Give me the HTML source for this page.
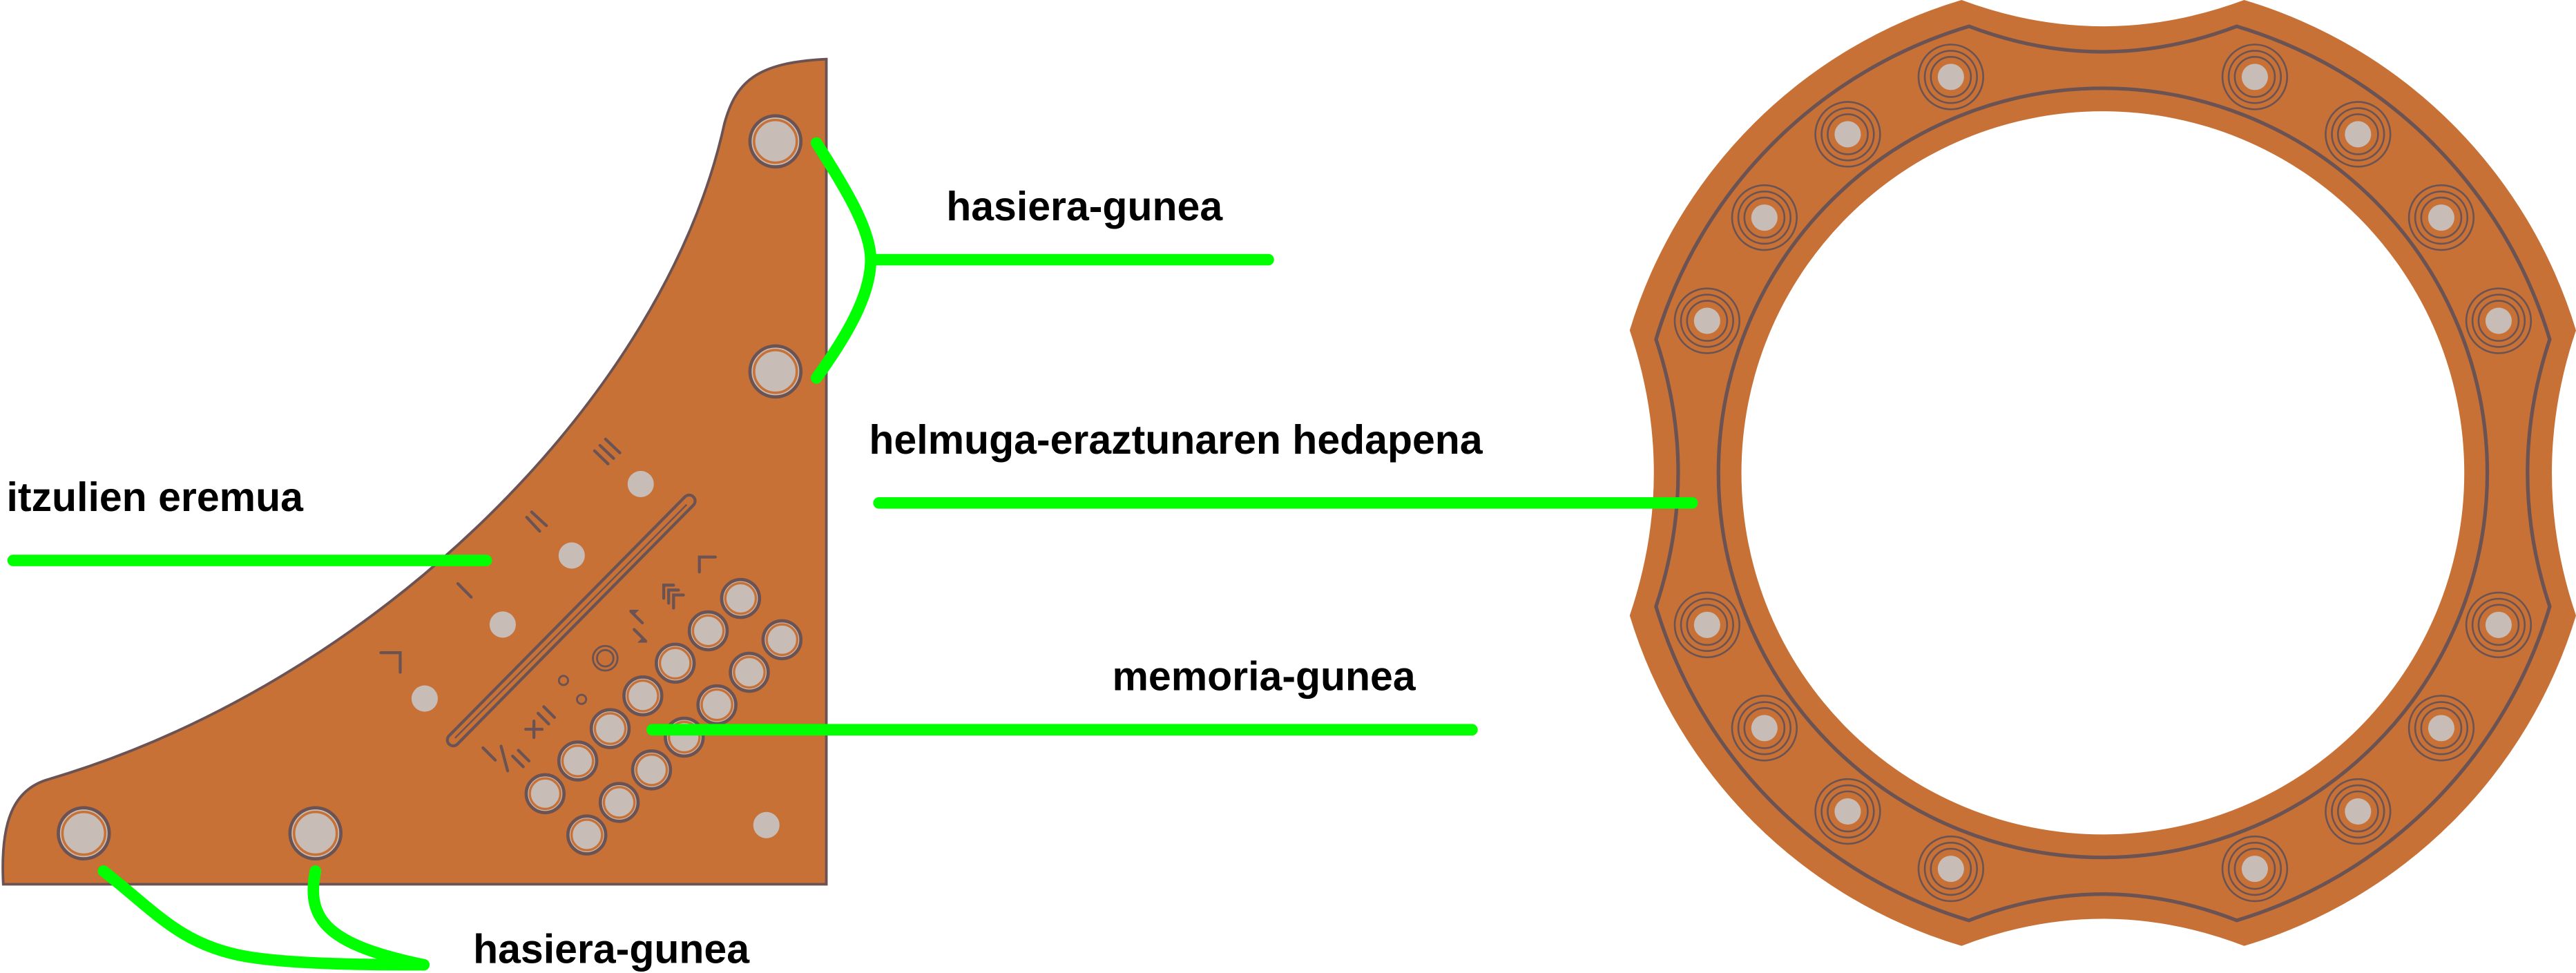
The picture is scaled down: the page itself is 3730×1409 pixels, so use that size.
<!DOCTYPE html>
<html><head><meta charset="utf-8"><style>
html,body{margin:0;padding:0;background:#fff;}
svg{display:block;}
text{font-family:"Liberation Sans",Arial,sans-serif;font-weight:bold;font-size:24.8px;fill:#000;}
</style></head><body>
<svg width="3730" height="1409" viewBox="0 0 1568 592" preserveAspectRatio="none" xmlns="http://www.w3.org/2000/svg">
<defs>
<g id="hole">
<circle r="19.7" fill="none" stroke="#6b5353" stroke-width="1.1"/>
<circle r="15.9" fill="none" stroke="#6b5353" stroke-width="1.1"/>
<circle r="12.2" fill="none" stroke="#6b5353" stroke-width="1.1"/>
<circle r="8" fill="#c8bcb6"/>
</g>
</defs>
<!-- Left panel -->
<path d="M503,36 L503,538 L2,538 C0,500 8,480 30,474 C230,415 405,240 441,75 C448,50 460,38 503,36 Z" fill="#c87137" stroke="#6b5353" stroke-width="1.6"/>
<g fill="#c8bcb6" stroke="#6b5353" stroke-width="2">
<circle cx="472" cy="86" r="15.5"/><circle cx="472" cy="226" r="15.5"/>
<circle cx="51" cy="507" r="15.5"/><circle cx="192" cy="507" r="15.5"/>
</g>
<g fill="none" stroke="#c87137" stroke-width="1.5">
<circle cx="472" cy="86" r="13"/><circle cx="472" cy="226" r="13"/>
<circle cx="51" cy="507" r="13"/><circle cx="192" cy="507" r="13"/>
</g>
<g fill="#c8bcb6">
<circle cx="390" cy="294.5" r="8"/><circle cx="348" cy="338" r="8"/><circle cx="306" cy="380" r="8"/><circle cx="258.5" cy="425" r="8"/><circle cx="466.5" cy="502" r="8"/>
</g>
<!-- slot -->
<line x1="419.5" y1="304.8" x2="275.9" y2="450.2" stroke="#6b5353" stroke-width="9" stroke-linecap="round"/>
<line x1="419.5" y1="304.8" x2="275.9" y2="450.2" stroke="#c87137" stroke-width="5.4" stroke-linecap="round"/>
<line x1="418" y1="307" x2="277" y2="449" stroke="#6b5353" stroke-width="1"/>
<!-- marks -->
<g stroke="#6b5353" stroke-width="1.8" stroke-linecap="round" fill="none">
<line x1="361.9" y1="274.3" x2="370.1" y2="282.2"/><line x1="365.2" y1="271" x2="373.5" y2="278.9"/><line x1="368.6" y1="267.2" x2="377.3" y2="275.5"/>
<line x1="320.6" y1="314.7" x2="328.5" y2="323.2"/><line x1="323.6" y1="311.5" x2="332.6" y2="319.8"/>
<line x1="278.7" y1="355.1" x2="286.8" y2="363.3"/>
<polyline points="231.8,397.1 243.6,397.1 243.6,409"/>
<polyline points="425.7,348 425.7,338.9 435.4,338.9"/>
<line x1="320" y1="443.7" x2="330" y2="443.7"/><line x1="325" y1="438.7" x2="325" y2="448.7"/>
<line x1="327.5" y1="434" x2="334" y2="440.5"/><line x1="331" y1="430" x2="337.5" y2="436.5"/>
<line x1="294" y1="455" x2="301.5" y2="462.5"/><line x1="305" y1="454" x2="309" y2="469"/>
<line x1="312" y1="460" x2="318.5" y2="466.5"/><line x1="315.5" y1="456.5" x2="322" y2="463"/>
<polyline points="404,364 404,356 410,356"/><polyline points="407,367 407,359 413,359"/><polyline points="410,370 410,362 416,362"/>
<line x1="384" y1="372" x2="391" y2="379"/><line x1="386" y1="383" x2="393" y2="390"/>
</g>
<g fill="#6b5353">
<polygon points="383,371 389,371 386,374"/>
<polygon points="394,391 388,391 391,388"/>
</g>
<g fill="none" stroke="#6b5353" stroke-width="1.2">
<circle cx="368.4" cy="400.5" r="7.5"/><circle cx="368.4" cy="400.5" r="5"/>
<circle cx="343" cy="414" r="2.8"/><circle cx="354" cy="425.5" r="2.8"/>
</g>
<!-- key grid -->
<g fill="#c8bcb6" stroke="#6b5353" stroke-width="2">
<circle cx="450.8" cy="364.1" r="11.5"/><circle cx="431.1" cy="383.8" r="11.5"/><circle cx="411" cy="403.5" r="11.5"/><circle cx="391.3" cy="423.4" r="11.5"/><circle cx="371.4" cy="443.3" r="11.5"/><circle cx="351.7" cy="463" r="11.5"/><circle cx="331.8" cy="482.9" r="11.5"/>
<circle cx="476" cy="389.2" r="11.5"/><circle cx="456.1" cy="409" r="11.5"/><circle cx="436.4" cy="428.8" r="11.5"/><circle cx="416.5" cy="448.5" r="11.5"/><circle cx="396.6" cy="468.4" r="11.5"/><circle cx="376.9" cy="488.2" r="11.5"/><circle cx="357.2" cy="508" r="11.5"/>
</g>
<g fill="none" stroke="#c87137" stroke-width="1.4">
<circle cx="450.8" cy="364.1" r="9.3"/><circle cx="431.1" cy="383.8" r="9.3"/><circle cx="411" cy="403.5" r="9.3"/><circle cx="391.3" cy="423.4" r="9.3"/><circle cx="371.4" cy="443.3" r="9.3"/><circle cx="351.7" cy="463" r="9.3"/><circle cx="331.8" cy="482.9" r="9.3"/>
<circle cx="476" cy="389.2" r="9.3"/><circle cx="456.1" cy="409" r="9.3"/><circle cx="436.4" cy="428.8" r="9.3"/><circle cx="416.5" cy="448.5" r="9.3"/><circle cx="396.6" cy="468.4" r="9.3"/><circle cx="376.9" cy="488.2" r="9.3"/><circle cx="357.2" cy="508" r="9.3"/>
</g>

<!-- Ring -->
<path fill-rule="evenodd" fill="#c87137" d="M1194,0 Q1280,32 1366,0 A300.5,300.5 0 0 1 1568,201 Q1538.6,287.7 1568,374.5 A300.5,300.5 0 0 1 1366,575.5 Q1280,542.5 1194,575.5 A300.5,300.5 0 0 1 992,374.5 Q1021.4,287.7 992,201 A300.5,300.5 0 0 1 1194,0 Z M1500,287.7 A220,220 0 1 0 1060,287.7 A220,220 0 1 0 1500,287.7 Z"/>
<path fill="none" stroke="#6b5353" stroke-width="2.2" stroke-linejoin="miter" d="M1198.5,16 Q1280,47 1361.5,16 A284,284 0 0 1 1552,206.5 Q1525,287.7 1552,369 A284,284 0 0 1 1361.5,560 Q1280,528 1198.5,560 A284,284 0 0 1 1008,369 Q1035,287.7 1008,206.5 A284,284 0 0 1 1198.5,16 Z"/>
<circle cx="1280" cy="287.7" r="234" fill="none" stroke="#6b5353" stroke-width="2.2"/>
<use href="#hole" x="1187.5" y="46.8"/><use href="#hole" x="1372.5" y="46.8"/>
<use href="#hole" x="1124.7" y="81.7"/><use href="#hole" x="1435.3" y="81.7"/>
<use href="#hole" x="1074" y="132.4"/><use href="#hole" x="1486" y="132.4"/>
<use href="#hole" x="1039.1" y="195.2"/><use href="#hole" x="1520.9" y="195.2"/>
<use href="#hole" x="1039.1" y="380.2"/><use href="#hole" x="1520.9" y="380.2"/>
<use href="#hole" x="1074" y="443"/><use href="#hole" x="1486" y="443"/>
<use href="#hole" x="1124.7" y="493.7"/><use href="#hole" x="1435.3" y="493.7"/>
<use href="#hole" x="1187.5" y="528.6"/><use href="#hole" x="1372.5" y="528.6"/>

<!-- Green leader lines -->
<g fill="none" stroke="#00ff00" stroke-width="7" stroke-linecap="round">
<path d="M497,87 C515,115 530,140 530,158 C530,180 515,205 497,230"/>
<line x1="530" y1="158" x2="772" y2="158"/>
<line x1="8" y1="341" x2="296" y2="341"/>
<line x1="397" y1="444" x2="896" y2="444"/>
<line x1="535" y1="306" x2="1030" y2="306"/>
<path d="M63,530 C95,555 110,575 150,582 C180,587 230,587 258,587"/>
<path d="M192,530 C186,560 200,575 258,587"/>
</g>

<!-- Labels -->
<text x="576" y="134">hasiera-gunea</text>
<text x="529" y="276">helmuga-eraztunaren hedapena</text>
<text x="4" y="311">itzulien eremua</text>
<text x="677" y="420">memoria-gunea</text>
<text x="288" y="586">hasiera-gunea</text>
</svg>
</body></html>
